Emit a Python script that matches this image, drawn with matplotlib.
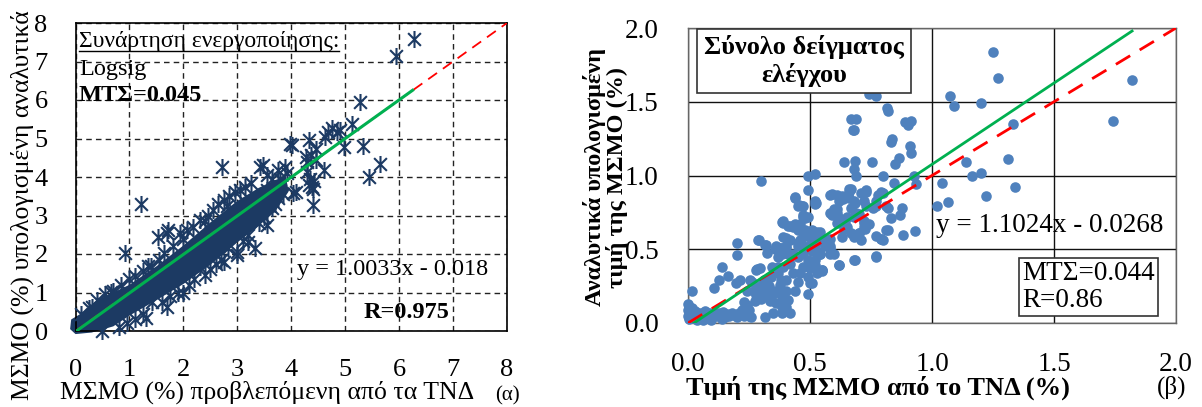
import matplotlib
matplotlib.use("Agg")
import matplotlib.pyplot as plt
import numpy as np
from matplotlib.path import Path

plt.rcParams['font.family'] = ['Liberation Serif', 'DejaVu Serif']

# ---------------- data: panel (a) ----------------
# dense cloud envelope
env_up_x = [-0.1, -0.08, 0.1, 0.4, 1.0, 1.5, 2.0, 2.5, 3.0, 3.4, 3.7, 3.9]
env_up_y = [0.05, 0.3, 0.45, 0.8, 1.2, 1.68, 2.22, 2.82, 3.38, 3.72, 3.92, 4.02]
env_lo_x = [3.95, 3.7, 3.3, 3.0, 2.5, 2.0, 1.5, 1.0, 0.7, 0.3, 0.0]
env_lo_y = [3.62, 3.1, 2.62, 2.3, 1.72, 1.22, 0.8, 0.4, 0.12, -0.04, -0.08]

# edge and outlier points
pa_x = [0.1, 0.25, 0.4, 0.55, 0.7, 0.85, 1.1, 1.25, 1.4, 1.55, 1.69, 1.72, 1.53, 1.8,
        1.93, 2.06, 2.18, 2.3, 2.45, 2.55, 2.65, 2.75, 2.85, 2.95, 3.05, 3.15, 3.25,
        3.42, 3.48, 3.55, 3.76, 3.89, 3.92, 3.65, 3.8,
        0.5, 0.8, 0.95, 1.1, 1.25, 1.41, 1.6, 1.75, 1.9, 2.1, 2.31, 2.2, 2.5, 2.6,
        2.7, 2.83, 2.99, 3.1, 3.2, 3.33, 3.3, 3.4, 3.5, 3.55, 3.65, 3.7, 3.75, 3.85, 3.6,
        6.27, 5.95, 5.28, 5.13, 4.69, 4.76, 4.85, 4.91, 4.63, 4.97, 5.33, 5.65, 5.44,
        4.32, 3.98, 4.01, 4.45, 4.36, 4.27, 4.29, 4.45, 4.6, 4.29, 4.35, 4.32, 4.38,
        4.09, 4.04, 4.41, 2.71, 1.22, 0.91, 4.4, 4.42,
        0.3, 0.65, 1.0, 1.35, 1.65, 2.0, 2.4, 2.8, 3.0, 3.2, 3.55, 1.3, 1.7, 2.0, 2.4, 2.75]
pa_y = [0.45, 0.6, 0.8, 0.95, 1.05, 1.2, 1.42, 1.55, 1.7, 1.85, 2.54, 2.62, 2.45, 2.2,
        2.54, 2.62, 2.71, 2.88, 3.0, 3.15, 3.3, 3.4, 3.5, 3.6, 3.65, 3.75, 3.85,
        4.27, 4.31, 4.05, 4.18, 4.27, 4.10, 3.95, 3.95,
        0.0, 0.1, 0.2, 0.3, 0.45, 0.76, 0.75, 0.9, 1.0, 1.2, 1.67, 1.35, 1.6, 1.75,
        1.85, 2.15, 1.97, 2.35, 2.5, 2.15, 3.06, 2.8, 2.95, 3.66, 3.2, 3.3, 3.45, 3.55, 3.5,
        7.58, 7.13, 5.96, 5.38, 5.18, 5.26, 5.18, 5.22, 5.05, 4.79, 4.8, 4.35, 4.0,
        4.96, 4.87, 4.83, 4.74, 4.57, 4.53, 4.40, 4.44, 4.18, 4.14, 3.95, 3.8, 3.75,
        3.62, 3.58, 3.27, 4.25, 3.30, 2.02, 3.7, 3.9,
        0.62, 1.02, 1.35, 1.68, 2.02, 2.4, 2.85, 3.25, 2.05, 2.3, 2.75, 0.35, 0.62, 0.98, 1.45, 1.8]

fit_a_x = [0.0, 6.25]
fit_a_slope, fit_a_icpt = 1.0033, -0.018
ticks_a = [0, 1, 2, 3, 4, 5, 6, 7, 8]

# ---------------- data: panel (b) ----------------
pb_x = [1.25, 1.27, 1.82, 1.075, 1.09, 1.20, 1.74, 1.33, 1.31, 1.14, 1.20, 1.165, 1.04, 1.34,
        1.22, 1.065, 1.02,
        0.74, 0.76, 0.77, 0.815, 0.67, 0.68, 0.89, 0.90, 0.915, 0.82, 0.83, 0.835,
        0.91, 0.915, 0.864, 0.85, 0.925, 0.935, 0.845, 0.80, 0.82, 0.83, 0.877, 0.87,
        0.82, 0.88, 0.93, 0.78, 0.79, 0.755, 0.73, 0.72, 0.73, 0.79, 0.80, 0.77, 0.76,
        0.64, 0.685, 0.68, 0.69, 0.675, 0.69, 0.67, 0.66, 0.685, 0.67, 0.69, 0.636, 0.61, 0.59,
        0.60, 0.59, 0.61, 0.62, 0.63, 0.645, 0.72, 0.725, 0.67, 0.70, 0.633, 0.685, 0.62,
        0.58, 0.60, 0.49, 0.52, 0.49, 0.44, 0.455, 0.466, 0.52, 0.525,
        0.39, 0.41, 0.44, 0.45, 0.47, 0.48, 0.48, 0.51, 0.54, 0.48, 0.50, 0.52, 0.46, 0.47, 0.45,
        0.50, 0.51, 0.53, 0.54, 0.55, 0.52, 0.50, 0.50,
        0.30, 0.29, 0.32, 0.38, 0.385, 0.40, 0.41, 0.40, 0.295,
        0.00, 0.005, 0.0, 0.01, 0.0, 0.005, 0.015, 0.02, 0.025, 0.03,
        0.04, 0.05, 0.055, 0.065, 0.07, 0.075, 0.085, 0.09, 0.10, 0.11,
        0.12, 0.125, 0.135, 0.145, 0.15, 0.16, 0.17, 0.18, 0.19, 0.20,
        0.21, 0.22, 0.23, 0.24, 0.25, 0.26, 0.06, 0.14, 0.035, 0.095,
        0.018, 0.108, 0.129, 0.165, 0.138, 0.196, 0.20, 0.20, 0.254, 0.264, 0.281,
        0.287, 0.315, 0.322, 0.357, 0.37, 0.384,
        0.27, 0.28, 0.29, 0.30, 0.31, 0.32, 0.33, 0.335, 0.275, 0.30,
        0.34, 0.356, 0.377, 0.384, 0.36, 0.384, 0.35, 0.384, 0.315, 0.42,
        0.39, 0.41, 0.38, 0.40, 0.36, 0.345, 0.37, 0.24, 0.25, 0.23,
        0.213, 0.24, 0.28, 0.31, 0.33, 0.35, 0.38, 0.40, 0.44, 0.45,
        0.37, 0.39, 0.42, 0.43, 0.46, 0.47, 0.38, 0.40, 0.36, 0.38, 0.40, 0.43,
        0.45, 0.47, 0.49, 0.50, 0.53, 0.55, 0.49, 0.51, 0.49, 0.52, 0.54,
        0.39, 0.42, 0.45, 0.47, 0.49, 0.51, 0.53, 0.53, 0.56, 0.58,
        0.43, 0.46, 0.39, 0.42, 0.47, 0.49, 0.45, 0.47, 0.44, 0.52,
        0.58, 0.58, 0.61, 0.62, 0.63, 0.66, 0.64, 0.65, 0.62, 0.61, 0.68, 0.70, 0.65,
        0.70, 0.72, 0.68, 0.71, 0.58, 0.58, 0.56, 0.62, 0.55, 0.68, 0.77,
        0.77, 0.79, 0.81, 0.74, 0.72, 0.77, 0.77, 0.73, 0.71, 0.68, 0.66, 0.81, 0.80]
pb_y = [1.84, 1.66, 1.65, 1.54, 1.47, 1.49, 1.37, 1.35, 1.11, 1.09, 1.02, 0.995, 0.95, 0.92,
        0.86, 0.82, 0.79,
        1.55, 1.56, 1.54, 1.46, 1.38, 1.31, 1.36, 1.34, 1.37, 1.44, 1.23, 1.25,
        1.20, 1.15, 1.12, 1.075, 1.0, 0.94, 0.95, 1.0, 0.78, 0.71, 0.78, 0.73,
        0.63, 0.60, 0.625, 0.87, 0.89, 1.09, 0.89, 0.825, 0.79, 0.57, 0.56, 0.455, 0.78,
        1.09, 1.10, 1.045, 0.995, 1.31, 1.38, 0.91, 0.85, 0.815, 0.78, 0.745, 0.84, 0.87, 0.875,
        0.77, 0.73, 0.745, 0.71, 0.68, 0.69, 0.68, 0.64, 0.61, 0.61, 0.58, 0.43, 0.39,
        0.52, 0.47, 0.995, 1.01, 0.90, 0.85, 0.80, 0.79, 0.825, 0.815,
        0.69, 0.655, 0.67, 0.63, 0.73, 0.71, 0.63, 0.63, 0.62, 0.60, 0.58, 0.59, 0.56, 0.52, 0.52,
        0.53, 0.49, 0.49, 0.47, 0.355, 0.39, 0.37, 0.27,
        0.96, 0.56, 0.53, 0.51, 0.47, 0.51, 0.47, 0.575, 0.37,
        0.13, 0.11, 0.09, 0.07, 0.05, 0.03, 0.10, 0.06, 0.04, 0.08,
        0.05, 0.07, 0.04, 0.06, 0.08, 0.045, 0.055, 0.07, 0.04, 0.06,
        0.045, 0.07, 0.05, 0.075, 0.04, 0.06, 0.045, 0.07, 0.055, 0.04,
        0.065, 0.09, 0.05, 0.07, 0.045, 0.04, 0.02, 0.025, 0.02, 0.02,
        0.22, 0.235, 0.29, 0.32, 0.377, 0.27, 0.46, 0.545, 0.29, 0.28, 0.367,
        0.56, 0.53, 0.475, 0.505, 0.45, 0.687,
        0.22, 0.19, 0.24, 0.16, 0.21, 0.18, 0.25, 0.15, 0.15, 0.26,
        0.31, 0.36, 0.26, 0.18, 0.134, 0.11, 0.066, 0.066, 0.043, 0.065,
        0.21, 0.155, 0.13, 0.11, 0.22, 0.38, 0.38, 0.12, 0.09, 0.14,
        0.29, 0.22, 0.36, 0.29, 0.24, 0.20, 0.20, 0.22, 0.22, 0.28,
        0.34, 0.38, 0.40, 0.34, 0.34, 0.38, 0.29, 0.29, 0.52, 0.51, 0.52, 0.47,
        0.45, 0.47, 0.43, 0.37, 0.34, 0.36, 0.31, 0.27, 0.20, 0.43, 0.47,
        0.58, 0.56, 0.54, 0.58, 0.61, 0.61, 0.62, 0.55, 0.56, 0.57,
        0.65, 0.67, 0.68, 0.66, 0.72, 0.72, 0.79, 0.79, 0.855, 0.81,
        0.87, 0.745, 0.77, 0.83, 0.86, 0.91, 0.64, 0.65, 0.70, 0.68, 0.72, 0.74, 0.72,
        0.61, 0.65, 0.58, 0.56, 0.51, 0.47, 0.52, 0.39, 0.36, 0.43, 0.45,
        0.59, 0.57, 0.63, 0.67, 0.69, 0.79, 0.83, 0.90, 0.88, 0.83, 0.89, 0.79, 0.88]

fit_b_x = [0.0243, 1.82]
fit_b_slope, fit_b_icpt = 1.1024, -0.0268
ticks_b = [0.0, 0.5, 1.0, 1.5, 2.0]

NAVY = '#1c3a63'
BLUE = '#4f81bd'
RED = '#ff0000'
GREEN = '#00b050'

W, H = 1202, 407
fig = plt.figure(figsize=(W / 100, H / 100), dpi=100)

def fx(px):
    return px / W

def fy(py):
    return 1 - py / H

# asterisk marker: vertical line + X
ast = Path([(0, -1), (0, 1), (-0.75, -0.75), (0.75, 0.75), (-0.75, 0.75), (0.75, -0.75)],
           [Path.MOVETO, Path.LINETO, Path.MOVETO, Path.LINETO, Path.MOVETO, Path.LINETO])

# ---------------- panel (a) ----------------
axa = fig.add_axes([fx(75.5), fy(331), fx(507) - fx(75.5), fy(23) - fy(331)])
axa.set_xlim(0, 8)
axa.set_ylim(0, 8)
axa.set_xticks(ticks_a)
axa.set_yticks(ticks_a)
axa.grid(True, color='#222222', linestyle=(0, (4, 3)), linewidth=1.0)
axa.set_axisbelow(True)
for s in axa.spines.values():
    s.set_color('black')
    s.set_linewidth(1.2)
axa.tick_params(length=0, labelsize=19, pad=20)

env_x = env_up_x + env_lo_x
env_y = env_up_y + env_lo_y
axa.fill(env_x, env_y, color=NAVY, lw=0, zorder=2, clip_on=False)
axa.scatter(pa_x, pa_y, marker=ast, s=150, c=NAVY, linewidths=1.5, zorder=3, clip_on=False)
axa.plot([0, 8], [0, 8], color=RED, lw=1.3, linestyle=(0, (6, 4)), zorder=4)
xa = np.array(fit_a_x)
axa.plot(xa, fit_a_slope * xa + fit_a_icpt, color=GREEN, lw=2.2, zorder=5)

t1 = axa.text(fx(79), fy(47), 'Συνάρτηση ενεργοποίησης:', transform=fig.transFigure,
              fontsize=17, ha='left', va='baseline', zorder=6)
axa.text(fx(79), fy(75), 'Logsig', transform=fig.transFigure, fontsize=17.5,
         ha='left', va='baseline', zorder=6)
axa.text(fx(79), fy(101), 'ΜΤΣ=0.045', transform=fig.transFigure, fontsize=17.5,
         fontweight='bold', ha='left', va='baseline', zorder=6)
axa.text(fx(488), fy(275), 'y = 1.0033x - 0.018', transform=fig.transFigure, fontsize=17.5,
         ha='right', va='baseline', zorder=6)
axa.text(fx(449), fy(318), 'R=0.975', transform=fig.transFigure, fontsize=17.5,
         fontweight='bold', ha='right', va='baseline', zorder=6)

fig.text(fx(22), fy(205), 'ΜΣΜΟ (%) υπολογισμένη αναλυτικά', rotation=90,
         fontsize=18.5, ha='center', va='center')
fig.text(fx(267), fy(392), 'ΜΣΜΟ (%) προβλεπόμενη από τα ΤΝΔ', fontsize=18.5,
         ha='center', va='center')
fig.text(fx(507), fy(396), '(α)', fontsize=15, ha='center', va='center')

# ---------------- panel (b) ----------------
axb = fig.add_axes([fx(688), fy(323), fx(1176) - fx(688), fy(28) - fy(323)])
axb.set_xlim(0, 2)
axb.set_ylim(0, 2)
axb.set_xticks(ticks_b)
axb.set_yticks(ticks_b)
axb.set_xticklabels([f'{t:.1f}' for t in ticks_b])
axb.set_yticklabels([f'{t:.1f}' for t in ticks_b])
axb.grid(True, color='#111111', linestyle='-', linewidth=1.0)
axb.set_axisbelow(True)
for s in axb.spines.values():
    s.set_color('#666666')
    s.set_linewidth(1.0)
axb.tick_params(length=0, labelsize=19.5, pad=21)

axb.scatter(pb_x, pb_y, s=58, c=BLUE, linewidths=0, zorder=3, clip_on=False)
axb.plot([0, 2], [0, 2], color=RED, lw=2.0, linestyle=(0, (6, 4)), zorder=4)
xb = np.array(fit_b_x)
axb.plot(xb, fit_b_slope * xb + fit_b_icpt, color=GREEN, lw=2.0, zorder=5)

axb.text(fx(804), fy(61), 'Σύνολο δείγματος\nελέγχου', transform=fig.transFigure,
         fontsize=19, fontweight='bold', ha='center', va='center', linespacing=1.2,
         zorder=6,
         bbox=dict(boxstyle='square,pad=0.25', fc='white', ec='#333333', lw=1.2))
axb.text(fx(1163), fy(225), 'y = 1.1024x - 0.0268', transform=fig.transFigure,
         fontsize=19.5, ha='right', va='center', zorder=6)
axb.text(fx(1022), fy(287), 'ΜΤΣ=0.044\nR=0.86', transform=fig.transFigure,
         fontsize=19.5, ha='left', va='center', linespacing=1.1, zorder=6,
         bbox=dict(boxstyle='square,pad=0.12', fc='white', ec='#333333', lw=1.2))

fig.text(fx(606), fy(177), 'Αναλυτικά υπολογισμένη\nτιμή της ΜΣΜΟ (%)', rotation=90,
         fontsize=17.5, fontweight='bold', ha='center', va='center', linespacing=1.0)
fig.text(fx(878), fy(388), 'Τιμή της ΜΣΜΟ από το ΤΝΔ (%)', fontsize=19,
         fontweight='bold', ha='center', va='center')
fig.text(fx(1172), fy(387), '(β)', fontsize=18, ha='center', va='center')

# underline for the first annotation
fig.canvas.draw()
bb = t1.get_window_extent()
fig.add_artist(plt.Line2D([bb.x0 / W, bb.x1 / W], [fy(50.5), fy(50.5)],
                          transform=fig.transFigure, color='black', lw=1.0))

fig.savefig('out.png', dpi=100)
